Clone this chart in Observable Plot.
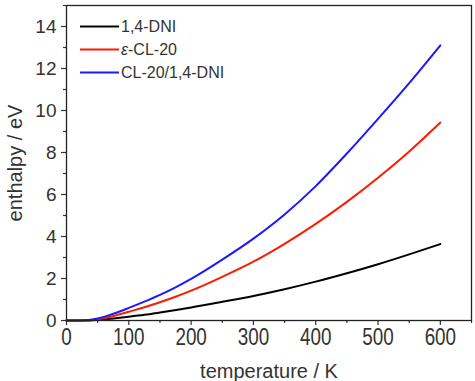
<!DOCTYPE html>
<html>
<head>
<meta charset="utf-8">
<script src="https://cdn.jsdelivr.net/npm/d3@7"></script>
<script src="https://cdn.jsdelivr.net/npm/@observablehq/plot@0.6"></script>
<style>
  html, body { margin: 0; padding: 0; background: #fff; }
  #chart { width: 475px; height: 381px; }
</style>
</head>
<body>
<div id="chart"></div>
<script>
const seriesNames = ["1,4-DNI", "ε-CL-20", "CL-20/1,4-DNI"];
const seriesColors = ["#000000", "#ff1a00", "#1a1aff"];

const tempDNI = [0, 30, 50, 75, 100, 125, 150, 200, 250, 300, 350, 400, 450, 500, 550, 600];
const enthDNI = [0, 0, 0.03, 0.1, 0.18, 0.27, 0.38, 0.62, 0.89, 1.17, 1.49, 1.85, 2.25, 2.68, 3.15, 3.64];

const tempCL20 = [0, 20, 35, 50, 65, 80, 100, 125, 150, 175, 200, 250, 300, 350, 400, 450, 500, 550, 600];
const enthCL20 = [0, 0, 0.01, 0.06, 0.14, 0.25, 0.42, 0.63, 0.87, 1.13, 1.42, 2.08, 2.8, 3.65, 4.6, 5.65, 6.8, 8.05, 9.43];

const tempCo = [0, 20, 35, 50, 65, 80, 100, 125, 150, 175, 200, 250, 300, 350, 400, 450, 500, 550, 600];
const enthCo = [0, 0, 0.02, 0.1, 0.22, 0.37, 0.6, 0.9, 1.22, 1.58, 1.98, 2.9, 3.9, 5.05, 6.4, 7.95, 9.6, 11.3, 13.1];

const xMajorTicks = [0, 100, 200, 300, 400, 500, 600];
const xMinorTicks = [50, 150, 250, 350, 450, 550, 650];
const yMajorTicks = [0, 2, 4, 6, 8, 10, 12, 14];
const yMinorTicks = [1, 3, 5, 7, 9, 11, 13, 15];

const rows = [];
[[tempDNI, enthDNI], [tempCL20, enthCL20], [tempCo, enthCo]].forEach(([t, h], i) => {
  t.forEach((x, j) => rows.push({series: seriesNames[i], t: x, h: h[j]}));
});

const legendMark = (index, scales, values, dims) => {
  const g = d3.create("svg:g");
  const x0 = dims.marginLeft + 14, x1 = dims.marginLeft + 53;
  seriesNames.forEach((name, i) => {
    const y = dims.marginTop + 21.5 + i * 23;
    g.append("line").attr("x1", x0).attr("x2", x1).attr("y1", y).attr("y2", y)
      .attr("stroke", seriesColors[i]).attr("stroke-width", 2);
    const tx = g.append("text").attr("x", x1 + 2).attr("y", y).attr("dy", "0.35em")
      .attr("text-anchor", "start").attr("fill", "#333").attr("font-size", 16);
    if (name.startsWith("ε")) {
      tx.append("tspan").attr("font-style", "italic").text("ε");
      tx.append("tspan").text(name.slice(1));
    } else {
      tx.text(name);
    }
  });
  return g.node();
};

const chart = Plot.plot({
  width: 475,
  height: 381,
  marginLeft: 66,
  marginRight: 4,
  marginTop: 5,
  marginBottom: 61,
  style: {fontFamily: "'Liberation Sans', Arial, sans-serif", color: "#333", background: "#fff"},
  x: {domain: [0, 650]},
  y: {domain: [0, 15]},
  color: {domain: seriesNames, range: seriesColors},
  marks: [
    Plot.line(rows, {x: "t", y: "h", z: "series", stroke: "series", strokeWidth: 2, curve: "monotone-x"}),
    Plot.axisX({ticks: xMinorTicks, tickSize: 3, text: null, label: null, strokeWidth: 1.2}),
    Plot.axisX({ticks: xMajorTicks, tickSize: 5, tickPadding: 3, fontSize: 23,
      label: "temperature / K", labelAnchor: "center", labelArrow: "none", labelOffset: 57, strokeWidth: 1.2}),
    Plot.axisY({ticks: yMinorTicks, tickSize: 3, text: null, label: null, strokeWidth: 1.2}),
    Plot.axisY({ticks: yMajorTicks, tickSize: 5, tickPadding: 5, fontSize: 19,
      label: "enthalpy / eV", labelAnchor: "center", labelArrow: "none", labelOffset: 59, strokeWidth: 1.2}),
    Plot.frame({stroke: "#222", strokeWidth: 1.3}),
    legendMark
  ]
});
chart.querySelectorAll("g[aria-label='x-axis tick label'] text").forEach(t => {
  const tr = t.getAttribute("transform") || "";
  t.setAttribute("transform", tr + " scale(0.82,1)");
});
chart.querySelectorAll("g[aria-label='x-axis label'], g[aria-label='y-axis label']").forEach(g => {
  g.setAttribute("font-size", 20);
  g.style.fontSize = "20px";
  g.querySelectorAll("text").forEach(t => { t.style.fontSize = "20px"; });
});
document.getElementById("chart").appendChild(chart);
</script>
</body>
</html>
